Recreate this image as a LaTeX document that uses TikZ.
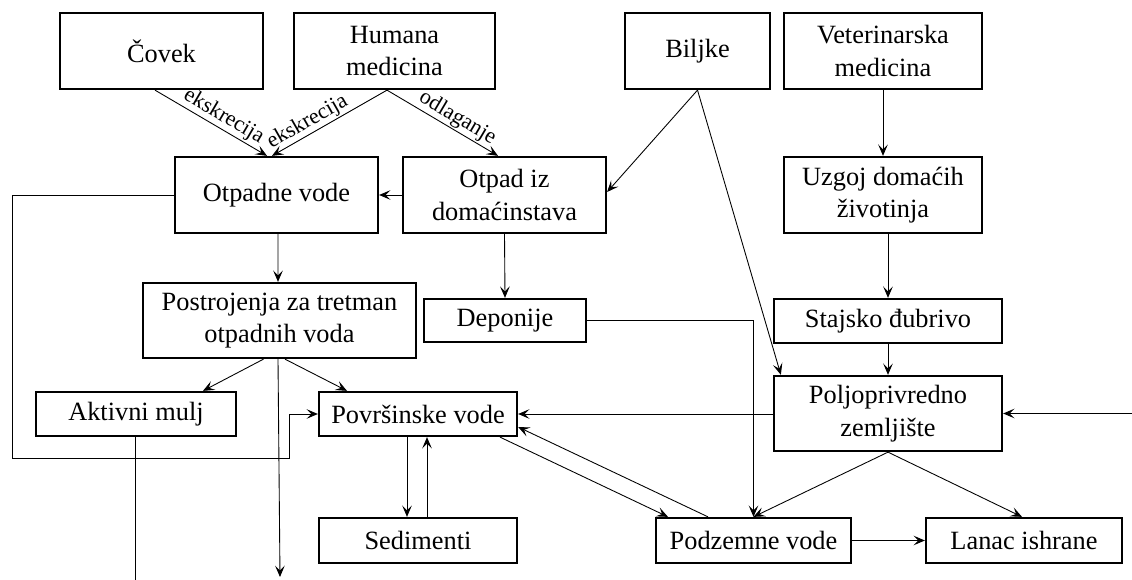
\documentclass[tikz,border=0pt]{standalone}
\usepackage{fontspec}
\setmainfont{Liberation Serif}
\usetikzlibrary{arrows.meta,calc}
\newcommand\pu{0.02cm}
\tikzset{
  box/.style={draw, line width=1.3pt, rectangle, inner sep=0pt, align=center,
    font=\fontsize{15}{18.5}\selectfont},
  conn/.style={line width=0.5pt, -{Stealth[length=6.5pt,width=5.5pt,inset=2.8pt]}},
  plain/.style={line width=0.5pt},
  lbl/.style={font=\fontsize{12.5}{14}\selectfont, sloped, above, inner sep=0.8pt}
}
\newcommand\bx[6]{\node[box, minimum width=#4*\pu, minimum height=#5*\pu] (#1) at (#2,#3) {#6};}
\begin{document}
\begin{tikzpicture}[x=0.02cm,y=-0.02cm]
\useasboundingbox (0,0) rectangle (1132,580);
\bx{covek}{161.5}{51}{203}{76}{Čovek}
\bx{humana}{394.5}{51}{201}{76}{Humana\\medicina}
\bx{biljke}{697.5}{51}{145}{76}{Biljke}
\bx{vet}{883}{51}{198}{76}{Veterinarska\\medicina}
\bx{otpadne}{276.5}{195}{203}{76}{Otpadne vode}
\bx{otpad}{504.5}{195}{203}{76}{Otpad iz\\domaćinstava}
\bx{uzgoj}{883}{195}{198}{76}{Uzgoj domaćih\\životinja}
\bx{postr}{279.5}{320.5}{273}{75}{Postrojenja za tretman\\otpadnih voda}
\bx{deponije}{505}{320.5}{162}{43}{Deponije}
\bx{stajsko}{888}{321}{228}{44}{Stajsko đubrivo}
\bx{polj}{888}{413.5}{228}{75}{Poljoprivredno\\zemljište}
\bx{aktivni}{136}{414}{200}{44}{Aktivni mulj}
\bx{povrs}{418}{414}{198}{44}{Površinske vode}
\bx{sedim}{418}{540.5}{198}{45}{Sedimenti}
\bx{podz}{753.5}{540.5}{195}{45}{Podzemne vode}
\bx{lanac}{1024}{540.5}{196}{45}{Lanac ishrane}

\coordinate (c1) at (12,195);
\coordinate (c2) at (12,458);
\coordinate (c3) at (289,458);
\coordinate (c4) at (289,414);
\coordinate (out1) at (280,577);
\coordinate (out2) at (135,580);
\coordinate (in1) at (1132,413.5);

\draw[conn] ([xshift=-6.5*\pu]covek.south) -- node[lbl,pos=0.56]{ekskrecija} ([xshift=-9.5*\pu]otpadne.north);
\draw[conn] ([xshift=-7.5*\pu]humana.south) -- node[lbl,pos=0.64]{ekskrecija} ([xshift=-4.5*\pu]otpadne.north);
\draw[conn] ([xshift=-7.5*\pu]humana.south) -- node[lbl,pos=0.58]{odlaganje} ([xshift=-6.5*\pu]otpad.north);
\draw[conn] (biljke.south) -- ([yshift=3*\pu]otpad.east);
\draw[conn] (biljke.south) -- ([xshift=8*\pu]polj.north west);
\draw[conn] (vet.south) -- (uzgoj.north);
\draw[conn] (stajsko.north |- uzgoj.south) -- (stajsko.north);
\draw[conn] (stajsko.south) -- (polj.north);
\draw[conn] (otpad.west) -- (otpadne.east);
\draw[conn] (otpad.south) -- (deponije.north);
\draw[conn] ([xshift=1.5*\pu]otpadne.south) -- ([xshift=-1.5*\pu]postr.north);
\draw[conn] (otpadne.west) -- (c1) -- (c2) -- (c3) -- (c4) -- (povrs.west);
\draw[conn] ([xshift=-16*\pu]postr.south) -- ([xshift=67*\pu]aktivni.north);
\draw[conn] ([xshift=5.5*\pu]postr.south) -- ([xshift=-71*\pu]povrs.north);
\draw[conn] ([xshift=-1.5*\pu]postr.south) -- (out1);
\draw[plain] (aktivni.south -| out2) -- (out2);
\draw[conn] ([xshift=-11*\pu]povrs.south) -- ([xshift=-11*\pu]sedim.north);
\draw[conn] ([xshift=9*\pu]sedim.north) -- ([xshift=9*\pu]povrs.south);
\draw[conn] (deponije.east) -| (podz.north);
\draw[conn] (polj.west |- povrs.east) -- (povrs.east);
\draw[conn] ([xshift=82*\pu]povrs.south) -- ([xshift=-85.5*\pu]podz.north);
\draw[conn] ([xshift=-45.5*\pu]podz.north) -- ([yshift=-13*\pu]povrs.east);
\draw[conn] (polj.south) -- (podz.north);
\draw[conn] (polj.south) -- ([xshift=-2*\pu]lanac.north);
\draw[conn] (in1) -- (polj.east);
\draw[conn] (podz.east) -- (lanac.west);
\end{tikzpicture}
\end{document}
